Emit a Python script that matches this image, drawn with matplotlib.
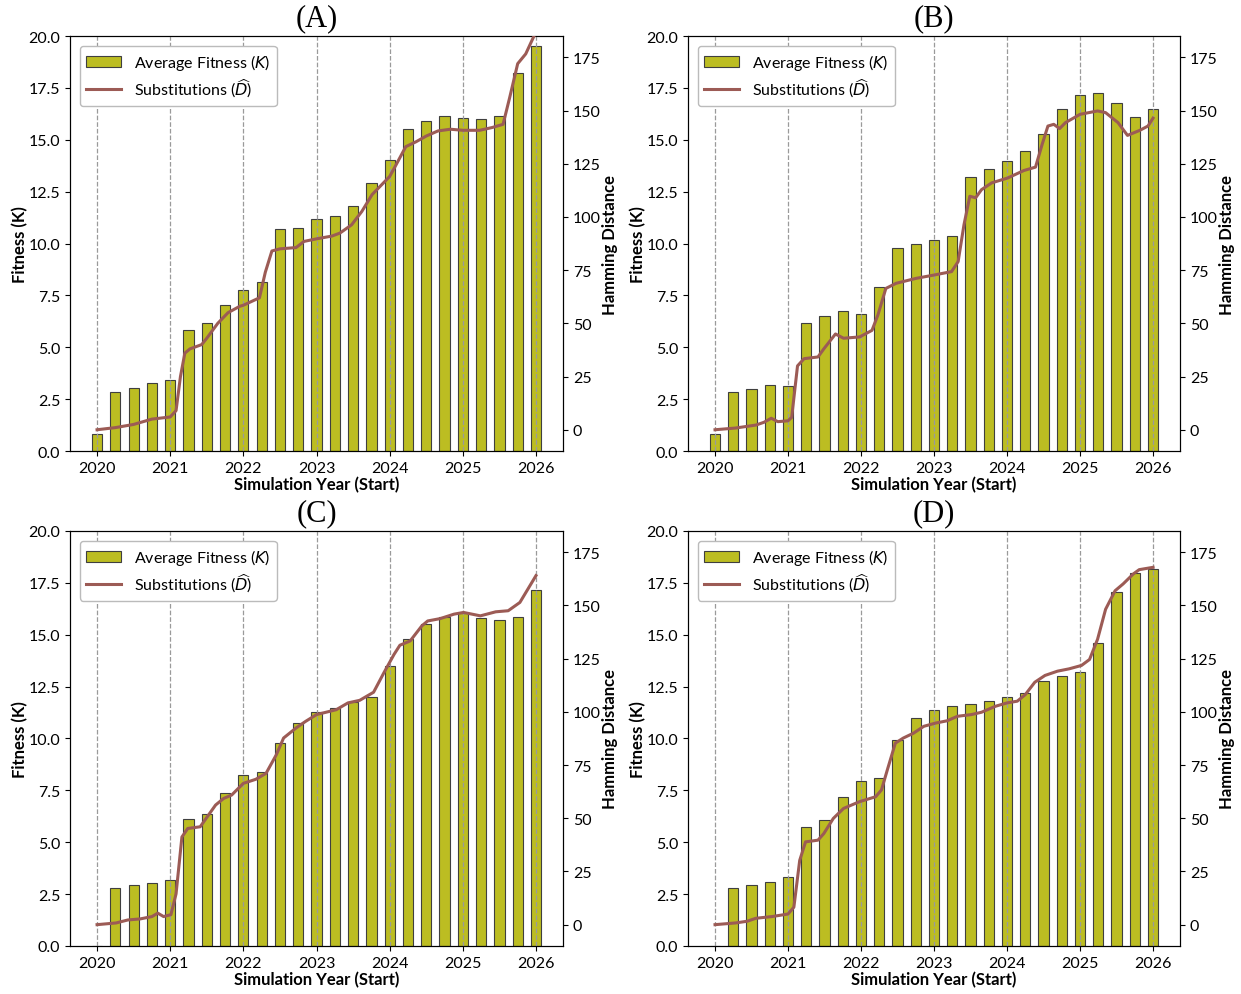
import matplotlib
matplotlib.use('Agg')
import matplotlib.pyplot as plt
import numpy as np

plt.rcParams['font.family'] = ['Lato', 'DejaVu Sans']
plt.rcParams['mathtext.fontset'] = 'dejavusans'

# quarterly simulation starts
years = [2020 + q * 0.25 for q in range(25)]

# average fitness (bars), one list per panel
fit_a = [0.80, 2.86, 3.02, 3.29, 3.40, 5.83, 6.15, 7.05, 7.74, 8.13, 10.71, 10.73, 11.16,
         11.31, 11.81, 12.93, 14.04, 15.53, 15.90, 16.14, 16.06, 16.02, 16.14, 18.20, 19.52]
fit_b = [0.80, 2.86, 2.97, 3.18, 3.12, 6.15, 6.51, 6.73, 6.62, 7.89, 9.78, 9.96, 10.17,
         10.35, 13.19, 13.61, 13.99, 14.46, 15.28, 16.48, 17.16, 17.25, 16.77, 16.10, 16.47]
fit_c = [0.0, 2.81, 2.94, 3.05, 3.16, 6.10, 6.38, 7.39, 8.22, 8.39, 9.77, 10.76, 11.28,
         11.47, 11.76, 11.98, 13.51, 14.80, 15.53, 15.86, 16.05, 15.78, 15.71, 15.84, 17.17]
fit_d = [0.0, 2.81, 2.94, 3.10, 3.34, 5.75, 6.09, 7.18, 7.94, 8.11, 9.93, 10.99, 11.39,
         11.57, 11.68, 11.81, 11.98, 12.19, 12.77, 13.01, 13.22, 14.59, 17.08, 17.96, 18.17]

# substitutions / hamming distance (line)
ham_a_t = [2020.0, 2020.25, 2020.5, 2020.75, 2021.0, 2021.08, 2021.14, 2021.2, 2021.27, 2021.43,
           2021.5, 2021.65, 2021.79, 2021.95, 2022.0, 2022.22, 2022.3, 2022.39, 2022.5, 2022.72,
           2022.83, 2023.0, 2023.21, 2023.32, 2023.48, 2023.62, 2023.76, 2024.0, 2024.08, 2024.22,
           2024.36, 2024.5, 2024.66, 2024.83, 2025.0, 2025.23, 2025.4, 2025.55, 2025.64, 2025.75,
           2025.86, 2026.0]
ham_a = [0, 1, 2.5, 5, 6, 9, 25, 36, 38, 40, 43, 50, 55, 58, 58.5, 62, 74, 84, 85, 85.6,
         88.5, 89.7, 91, 92.4, 96.3, 102.6, 110.5, 119, 124, 133, 135.3, 138, 140.4, 141.2,
         140.7, 140.7, 142, 143.5, 156, 172, 176.6, 187]

ham_b_t = [2020.0, 2020.28, 2020.56, 2020.67, 2020.77, 2020.86, 2021.0, 2021.05, 2021.13, 2021.22,
           2021.41, 2021.49, 2021.65, 2021.76, 2021.98, 2022.15, 2022.23, 2022.34, 2022.48, 2022.75,
           2023.0, 2023.24, 2023.33, 2023.41, 2023.49, 2023.57, 2023.65, 2023.79, 2024.01, 2024.23,
           2024.39, 2024.48, 2024.56, 2024.64, 2024.72, 2024.8, 2025.0, 2025.24, 2025.35, 2025.52,
           2025.65, 2025.82, 2025.93, 2026.0]
ham_b = [0, 0.8, 2.2, 3.5, 5.4, 3.8, 4.2, 5.8, 30, 33.4, 34.2, 38, 45, 43, 43.6, 46.7, 53.8,
         66.4, 68.8, 71.1, 72.7, 74.3, 79, 96.3, 109.7, 109, 112.8, 116, 118.3, 121.8, 123.4,
         134, 142.7, 143.5, 141.5, 144.3, 148.2, 149.8, 149, 144.3, 138.3, 140.7, 142.7, 146.4]

ham_c_t = [2020.0, 2020.26, 2020.42, 2020.59, 2020.75, 2020.83, 2020.91, 2021.01, 2021.08, 2021.16,
           2021.24, 2021.41, 2021.49, 2021.62, 2021.73, 2021.84, 2022.0, 2022.17, 2022.31, 2022.45,
           2022.55, 2022.72, 2022.85, 2023.0, 2023.27, 2023.43, 2023.59, 2023.78, 2023.92, 2024.06,
           2024.14, 2024.28, 2024.44, 2024.52, 2024.69, 2024.88, 2025.01, 2025.24, 2025.45, 2025.62,
           2025.78, 2025.89, 2026.0]
ham_c = [0, 0.8, 2.2, 2.7, 3.8, 5.4, 3.8, 4.7, 14.5, 41.2, 45.2, 46, 49.9, 56.2, 59.3, 60.9,
         66.4, 68.3, 71.1, 79.8, 87.7, 92.4, 95.5, 98.7, 101, 104.2, 105.4, 109.2, 118.3, 127,
         131.3, 133.3, 140.4, 142.7, 143.8, 145.9, 146.7, 145.1, 147, 147.5, 151.4, 157.7, 164]

ham_d_t = [2020.0, 2020.28, 2020.44, 2020.56, 2020.78, 2021.0, 2021.08, 2021.16, 2021.24, 2021.41,
           2021.49, 2021.62, 2021.76, 2021.98, 2022.2, 2022.28, 2022.36, 2022.47, 2022.58, 2022.72,
           2022.86, 2023.02, 2023.18, 2023.32, 2023.51, 2023.65, 2023.84, 2024.0, 2024.14, 2024.25,
           2024.38, 2024.52, 2024.69, 2024.85, 2025.02, 2025.13, 2025.24, 2025.35, 2025.48, 2025.59,
           2025.73, 2025.81, 2026.0]
ham_d = [0, 0.8, 1.6, 3, 3.8, 5, 8.2, 30.2, 38.9, 39.7, 42.8, 49.9, 54.6, 57.8, 60.1, 63.3,
         72.7, 85.3, 87.7, 90, 93.2, 94.7, 95.8, 97.9, 98.7, 99.8, 102.6, 104.2, 105, 108.1,
         113.9, 117.1, 119.1, 120.2, 121.8, 124.6, 134.1, 148.2, 156.9, 160.1, 164.8, 166.8, 167.9]

panels = [
    ('(A)', fit_a, ham_a_t, ham_a),
    ('(B)', fit_b, ham_b_t, ham_b),
    ('(C)', fit_c, ham_c_t, ham_c),
    ('(D)', fit_d, ham_d_t, ham_d),
]

# axes boxes in figure fractions (left, bottom, width, height)
boxes = [
    (0.0564, 0.5457, 0.3973, 0.4171),
    (0.5544, 0.5457, 0.3965, 0.4171),
    (0.0564, 0.0483, 0.3973, 0.4171),
    (0.5544, 0.0483, 0.3965, 0.4171),
]

fig = plt.figure(figsize=(12.41, 9.95), dpi=100)

for (title, fit, ht, hv), box in zip(panels, boxes):
    ax = fig.add_axes(box)
    ax.bar(years, fit, width=0.14, color='#bcbd22', edgecolor='#3f3f3f', linewidth=0.8,
           label='Average Fitness ($K$)', zorder=2)
    ax.set_xlim(2019.63, 2026.37)
    ax.set_ylim(0, 20)
    ax.set_yticks(np.arange(0, 20.01, 2.5))
    ax.set_yticklabels(['%.1f' % v for v in np.arange(0, 20.01, 2.5)])
    ax.set_xticks(range(2020, 2027))
    ax.tick_params(labelsize=11.5)
    ax.set_xlabel('Simulation Year (Start)', fontsize=12, fontweight='bold', labelpad=1)
    ax.set_ylabel('Fitness (K)', fontsize=12, fontweight='bold', labelpad=0)
    ax.set_title(title, fontsize=22, family=['Liberation Serif'], pad=8)

    ax2 = ax.twinx()
    for yr in range(2020, 2027):
        ax2.axvline(yr, color='#9a9a9a', linestyle='--', linewidth=0.9, zorder=1)
    ln, = ax2.plot(ht, hv, color='#9c5b55', linewidth=2.2, label='Substitutions ($\\widehat{D}$)',
                   zorder=3)
    ax2.set_ylim(-10, 185)
    ax2.set_yticks(range(0, 176, 25))
    ax2.tick_params(labelsize=11.5)
    ax2.set_ylabel('Hamming Distance', fontsize=12, fontweight='bold', labelpad=1)
    ax2.set_xlim(2019.63, 2026.37)

    h1, l1 = ax.get_legend_handles_labels()
    ax2.legend(h1 + [ln], l1 + [ln.get_label()], loc='upper left', fontsize=11.5,
               framealpha=1.0, edgecolor='#bbbbbb', handlelength=2.2, labelspacing=0.3,
               borderaxespad=0.6)

fig.savefig('out.png', dpi=100)
